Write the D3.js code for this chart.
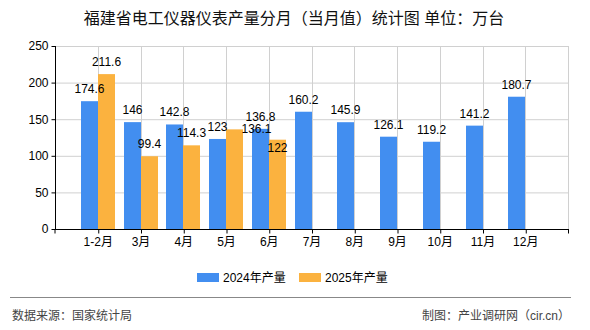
<!DOCTYPE html>
<html><head><meta charset="utf-8">
<script src="https://cdn.jsdelivr.net/npm/d3@7"></script>
<style>body{margin:0;background:#fff}svg{display:block}text{font-family:"Liberation Sans","Noto Sans CJK SC",sans-serif}</style>
</head><body><svg id="c" width="590" height="330"></svg>
<script>
const categories = ["1-2月","3月","4月","5月","6月","7月","8月","9月","10月","11月","12月"];
const values2024 = [174.6,146,142.8,123,136.8,160.2,145.9,126.1,119.2,141.2,180.7];
const values2025 = [211.6,99.4,114.3,136.1,122,null,null,null,null,null,null];
const seriesNames = ["2024年产量","2025年产量"];
const yTicks = [0,50,100,150,200,250];
const colors = ["#428ef0","#fbb23f"];
// label placement tweaks (label collision avoidance in the original)
const labelShift = {"1|3":[22,12],"1|4":[0,20]};

const svg = d3.select("#c");
const L=55,R=568,T=46,B=229,bw=17;
const x = d3.scalePoint().domain(categories).range([L,R]).padding(1);
const y = d3.scaleLinear().domain([0,250]).range([B,T]);
const font = '"Liberation Sans","Noto Sans CJK SC",sans-serif';

// grid
svg.append("g").selectAll("line").data(yTicks.filter(d=>d>0)).join("line")
  .attr("x1",L).attr("x2",R).attr("y1",d=>y(d)+0.5).attr("y2",d=>y(d)+0.5)
  .attr("stroke","#d0d0d0");
svg.append("g").selectAll("line").data(categories).join("line")
  .attr("x1",d=>Math.round(x(d))+0.5).attr("x2",d=>Math.round(x(d))+0.5).attr("y1",T).attr("y2",B)
  .attr("stroke","#d0d0d0");
svg.append("line").attr("x1",R+0.5).attr("x2",R+0.5).attr("y1",T).attr("y2",B).attr("stroke","#d0d0d0");

// bars
const series=[values2024,values2025];
series.forEach((vals,si)=>{
  const data = categories.map((c,i)=>({c,v:vals[i],i})).filter(d=>d.v!=null);
  svg.append("g").selectAll("rect").data(data).join("rect")
    .attr("x",d=>Math.round(x(d.c))+(si===0?-bw:0)).attr("width",bw)
    .attr("y",d=>y(d.v)).attr("height",d=>B-y(d.v)).attr("fill",colors[si]);
});

// axes
const yAxis = svg.append("g").attr("transform",`translate(${L+0.5},0)`)
  .call(d3.axisLeft(y).tickValues(yTicks).tickSize(4).tickPadding(3));
const xAxis = svg.append("g").attr("transform",`translate(0,${B+0.5})`)
  .call(d3.axisBottom(x).tickSize(4).tickPadding(4).tickSizeOuter(0));
xAxis.append("line").attr("x1",L).attr("x2",L).attr("y1",0).attr("y2",4).attr("stroke","#000");
xAxis.append("line").attr("x1",R+0.5).attr("x2",R+0.5).attr("y1",0).attr("y2",4).attr("stroke","#000");
xAxis.select(".domain").attr("d",`M${L},0H${R+1}`);
yAxis.select(".domain").attr("d",`M0,${T}V${B}`);
[xAxis,yAxis].forEach(a=>{a.selectAll("path,line").attr("stroke","#000");
  a.selectAll("text").attr("font-size",12).attr("fill","#000").attr("font-family",font);});
xAxis.selectAll(".tick line").attr("transform","translate(0.5,0)");

// value labels
series.forEach((vals,si)=>{
  const data = categories.map((c,i)=>({c,v:vals[i],i})).filter(d=>d.v!=null);
  svg.append("g").selectAll("text").data(data).join("text")
    .attr("x",d=>Math.round(x(d.c))+(si===0?-bw/2:bw/2)+((labelShift[si+"|"+d.i]||[0,0])[0]))
    .attr("y",d=>y(d.v)-8+((labelShift[si+"|"+d.i]||[0,0])[1]))
    .attr("text-anchor","middle").attr("font-size",12).attr("fill","#000")
    .text(d=>d.v);
});

// title
svg.append("text").attr("x",294).attr("y",24).attr("text-anchor","middle")
  .attr("font-size",16).attr("fill","#111").attr("font-family",'"Noto Sans CJK SC",sans-serif')
  .text("福建省电工仪器仪表产量分月（当月值）统计图 单位：万台");

// legend
const lx=[197,299];
seriesNames.forEach((n,i)=>{
  svg.append("rect").attr("x",lx[i]).attr("y",273).attr("width",22).attr("height",9).attr("fill",colors[i]);
  svg.append("text").attr("x",lx[i]+26).attr("y",282).attr("font-size",12).attr("fill","#000")
    .attr("font-family",'"Noto Sans CJK SC",sans-serif').text(n);
});

// footer
svg.append("line").attr("x1",10).attr("x2",571).attr("y1",297.5).attr("y2",297.5).attr("stroke","#888");
svg.append("text").attr("x",12).attr("y",320).attr("font-size",12).attr("fill","#444")
  .attr("font-family",'"Noto Sans CJK SC",sans-serif').text("数据来源：国家统计局");
svg.append("text").attr("x",570).attr("y",320).attr("text-anchor","end").attr("font-size",12).attr("fill","#444")
  .attr("font-family",'"Noto Sans CJK SC",sans-serif').text("制图：产业调研网（cir.cn）");
</script></body></html>
